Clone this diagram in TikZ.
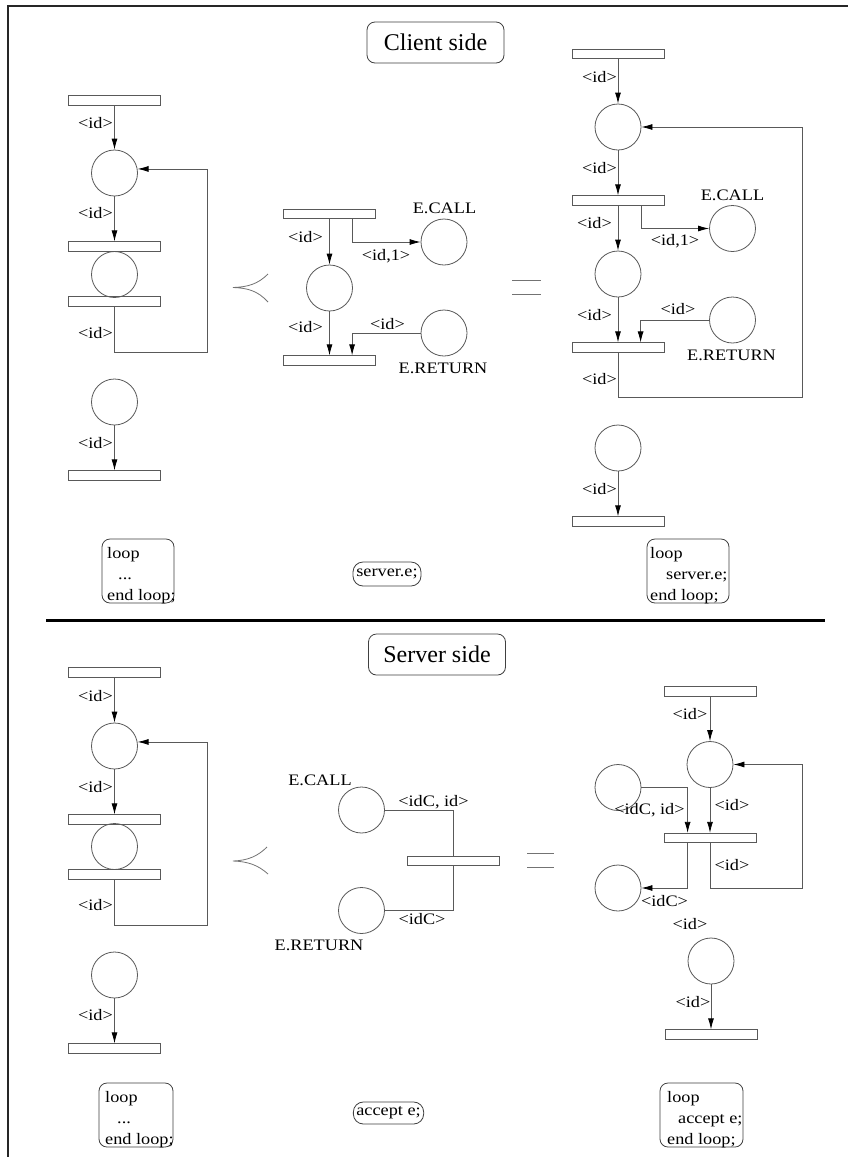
\documentclass[tikz,border=0pt]{standalone}
\usepackage{fontspec}
\setmainfont{Liberation Serif}[FakeStretch=1.14]
\newfontfamily\titlefont{Liberation Serif}
\usetikzlibrary{arrows.meta,calc}
\newcommand\pnlab[1]{\textless#1\textgreater}
\begin{document}
\begin{tikzpicture}[x=1pt,y=-1pt,
  place/.style={circle, draw=black!65, line width=0.8pt, minimum size=46pt, inner sep=0pt},
  trans/.style={rectangle, draw=black!65, line width=0.8pt, minimum width=92pt, minimum height=9.5pt, inner sep=0pt},
  arc/.style={draw=black!65, line width=0.8pt},
  arr/.style={arc, -{Latex[length=11pt,width=6pt,color=black]}},
  lbl/.style={font=\fontsize{16}{19}\selectfont, inner sep=0pt},
  title/.style={draw=black!75, rounded corners=8pt, minimum width=137pt, minimum height=41pt, font=\titlefont\fontsize{24}{28}\selectfont, line width=0.8pt},
  stmt/.style={draw=black!75, rounded corners=10pt, minimum height=24pt, inner sep=3pt, font=\fontsize{16}{19}\selectfont, line width=0.8pt},
  codebox/.style={draw=black!75, rounded corners=8pt, minimum height=64pt, line width=0.8pt},
  codetext/.style={font=\fontsize{16}{21}\selectfont, align=left, anchor=north west, inner sep=0pt},
  sym/.style={draw=black!55, line width=0.8pt}
]
\useasboundingbox (0,0) rectangle (848,1157);
\fill[white] (0,0) rectangle (848,1157);
% frame and separator
\draw[line width=2.5pt, black!85] (8,1157) -- (8,6) -- (848,6);
\draw[line width=3pt] (46,620) -- (825,620);

% titles
\node[title] (tc) at (435.5,42.5) {Client side};
\node[title] (ts) at (437,654.5) {Server side};

% ===== Client side, left =====
\node[trans] (a1) at (114.5,100.5) {};
\node[place] (a2) at (114.5,173) {};
\node[trans] (a3) at (114.5,246.5) {};
\node[place] (a4) at (114.5,274.5) {};
\node[trans] (a5) at (114.5,301.5) {};
\node[place] (a6) at (114.5,402) {};
\node[trans] (a7) at (114.5,475.5) {};
\draw[arr] (a1.south) -- (a2.north);
\draw[arr] (a2.south) -- (a3.north);
\draw[arr] (a5.south) |- (207,352) |- (a2.10);
\draw[arr] (a6.south) -- (a7.north);
\node[lbl] (la1) at (95.5,123) {\pnlab{id}};
\node[lbl] (la2) at (95.5,213) {\pnlab{id}};
\node[lbl] (la3) at (95.5,333) {\pnlab{id}};
\node[lbl] (la4) at (95.5,443) {\pnlab{id}};

% prec symbol
\draw[sym] (268,274) .. controls (258,284) and (248,287) .. (233,287.5)
           .. controls (248,288) and (258,291) .. (268,302);

% ===== Client side, middle =====
\node[trans] (b1) at (329.5,214) {};
\node[place] (b2) at (329.5,288) {};
\node[trans] (b3) at (329.5,360.5) {};
\node[place] (b4) at (444,242) {};
\node[place] (b5) at (444,333) {};
\draw[arr] (b1.south) -- (b2.north);
\draw[arr] ($(b1.south west)+(69,0)$) |- (b4.west);
\draw[arr] (b2.south) -- (b3.north);
\draw[arr] (b5.west) -| ($(b3.north west)+(69,0)$);
\node[lbl] (lb1) at (305.5,237) {\pnlab{id}};
\node[lbl] (lb2) at (386,256) {\pnlab{id,1}};
\node[lbl] (lb3) at (444.5,208) {E.CALL};
\node[lbl] (lb4) at (305.5,327) {\pnlab{id}};
\node[lbl] (lb5) at (387.5,324) {\pnlab{id}};
\node[lbl] (lb6) at (443,368) {E.RETURN};

% equals
\draw[sym] (512,280) -- (541,280);
\draw[sym] (512,294) -- (541,294);

% ===== Client side, right =====
\node[trans] (c1) at (618,54) {};
\node[place] (c2) at (618,127) {};
\node[trans] (c3) at (618,200.5) {};
\node[place] (c4) at (618,274) {};
\node[trans] (c5) at (618,347.5) {};
\node[place] (c6) at (732.5,228.5) {};
\node[place] (c7) at (732.5,320) {};
\node[place] (c8) at (618,448) {};
\node[trans] (c9) at (618,521.5) {};
\draw[arr] (c1.south) -- (c2.north);
\draw[arr] (c2.south) -- (c3.north);
\draw[arr] ($(c3.south west)+(70,0)$) |- (c6.west);
\draw[arr] (c3.south) -- (c4.north);
\draw[arr] (c4.south) -- (c5.north);
\draw[arr] (c7.west) -| ($(c5.north west)+(69,0)$);
\draw[arr] (c5.south) |- (802,397) |- (c2.east);
\draw[arr] (c8.south) -- (c9.north);
\node[lbl] (lc1) at (599.5,77) {\pnlab{id}};
\node[lbl] (lc2) at (599.5,168) {\pnlab{id}};
\node[lbl] (lc3) at (732.5,195) {E.CALL};
\node[lbl] (lc4) at (594.5,223) {\pnlab{id}};
\node[lbl] (lc5) at (675,241) {\pnlab{id,1}};
\node[lbl] (lc6) at (594.5,315) {\pnlab{id}};
\node[lbl] (lc7) at (678,309) {\pnlab{id}};
\node[lbl] (lc8) at (731.5,355) {E.RETURN};
\node[lbl] (lc9) at (599.5,379) {\pnlab{id}};
\node[lbl] (lc10) at (599.5,489) {\pnlab{id}};

% code boxes (client)
\node[codebox, minimum width=72pt] (k1) at (138,571) {};
\node[codetext] (k1t) at (107,547) {loop\\\hspace{11pt}...\\end loop;};
\node[stmt, minimum width=68pt] (k2) at (387,574) {server.e;};
\node[codebox, minimum width=82pt] (k3) at (688,571) {};
\node[codetext] (k3t) at (650,547) {loop\\\hspace{16pt}server.e;\\end loop;};

% ===== Server side, left =====
\node[trans] (d1) at (114.5,672.5) {};
\node[place] (d2) at (114.5,746) {};
\node[trans] (d3) at (114.5,819.5) {};
\node[place] (d4) at (114.5,846.5) {};
\node[trans] (d5) at (114.5,874.5) {};
\node[place] (d6) at (114.5,975) {};
\node[trans] (d7) at (114.5,1048.5) {};
\draw[arr] (d1.south) -- (d2.north);
\draw[arr] (d2.south) -- (d3.north);
\draw[arr] (d5.south) |- (207,925) |- (d2.10);
\draw[arr] (d6.south) -- (d7.north);
\node[lbl] (ld1) at (95.5,696) {\pnlab{id}};
\node[lbl] (ld2) at (95.5,787) {\pnlab{id}};
\node[lbl] (ld3) at (95.5,905) {\pnlab{id}};
\node[lbl] (ld4) at (95.5,1015) {\pnlab{id}};

\draw[sym] (267,847) .. controls (258,856) and (248,860.5) .. (233,861)
           .. controls (248,861.5) and (258,865) .. (268,874);

% ===== Server side, middle =====
\node[place] (e1) at (361.5,810) {};
\node[trans] (e2) at (453,861) {};
\node[place] (e3) at (361.5,910.5) {};
\draw[arc] (e1.east) -| (e2.north);
\draw[arc] (e2.south) |- (e3.east);
\node[lbl] (le1) at (320,780) {E.CALL};
\node[lbl] (le2) at (433.5,802) {\pnlab{idC, id}};
\node[lbl] (le3) at (422,919) {\pnlab{idC}};
\node[lbl] (le4) at (319,945) {E.RETURN};

\draw[sym] (527,853) -- (554,853);
\draw[sym] (527,867) -- (554,867);

% ===== Server side, right =====
\node[trans] (f1) at (710,691.5) {};
\node[place] (f2) at (710,764.5) {};
\node[place] (f3) at (618,787.5) {};
\node[trans] (f4) at (710,838) {};
\node[place] (f5) at (618,888) {};
\node[place] (f6) at (711,961) {};
\node[trans] (f7) at (711,1034.5) {};
\draw[arr] (f1.south) -- (f2.north);
\draw[arr] (f3.east) -| ($(f4.north west)+(24,0)$);
\draw[arr] (f2.south) -- (f4.north);
\draw[arr] ($(f4.south west)+(24,0)$) |- (f5.east);
\draw[arr] (f4.south) |- (802,888) |- (f2.east);
\draw[arr] (f6.south) -- (f7.north);
\node[lbl] (lf1) at (690,714) {\pnlab{id}};
\node[lbl] (lf2) at (649.5,810) {\pnlab{idC, id}};
\node[lbl] (lf3) at (732,805) {\pnlab{id}};
\node[lbl] (lf4) at (732,865) {\pnlab{id}};
\node[lbl] (lf5) at (664.5,901) {\pnlab{idC}};
\node[lbl] (lf6) at (690,924) {\pnlab{id}};
\node[lbl] (lf7) at (693,1002) {\pnlab{id}};

% code boxes (server)
\node[codebox, minimum width=74pt] (m1) at (136,1115) {};
\node[codetext] (m1t) at (105,1091) {loop\\\hspace{12pt}...\\end loop;};
\node[stmt, minimum width=69pt, minimum height=22pt] (m2) at (388.5,1113) {accept e;};
\node[codebox, minimum width=83pt] (m3) at (701.5,1115) {};
\node[codetext] (m3t) at (667,1091) {loop\\\hspace{11pt}accept e;\\end loop;};
\end{tikzpicture}
\end{document}
